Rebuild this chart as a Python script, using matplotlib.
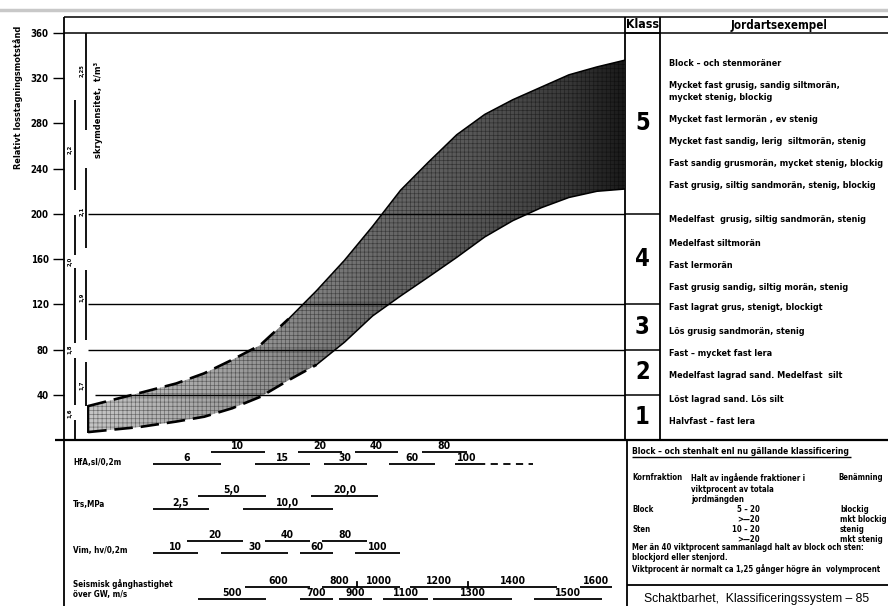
import os
import numpy as np
import matplotlib
matplotlib.use("Agg")
import matplotlib.pyplot as plt
from matplotlib import font_manager as fm


def pick_font(patterns):
    files = [f.fname for f in fm.fontManager.ttflist]
    for p in patterns:
        for f in files:
            if os.path.basename(f).lower().startswith(p.lower()):
                return f
    return None


bold_file = pick_font(['LiberationSansNarrow-Bold.', 'DejaVuSansCondensed-Bold.',
                       'RobotoCondensed-Bold', 'Roboto_Condensed-Bold',
                       'OpenSansCondensed-Bold', 'OpenSans_Condensed-Bold',
                       'Roboto-Bold.', 'LiberationSans-Bold.'])
reg_file = pick_font(['LiberationSans-Regular.', 'Roboto-Regular.', 'DejaVuSans.'])
FP = fm.FontProperties(fname=bold_file) if bold_file else \
    fm.FontProperties(family='DejaVu Sans', weight='bold')
FR = fm.FontProperties(fname=reg_file) if reg_file else \
    fm.FontProperties(family='DejaVu Sans')

# ---------------- data ----------------
y_ticks = [40, 80, 120, 160, 200, 240, 280, 320, 360]
class_bounds = [360, 200, 120, 80, 40, 0]
class_names = ['5', '4', '3', '2', '1']

band_x = [4.3, 13.5, 20, 25, 30, 35, 40, 45, 50, 55, 60, 65, 70, 75, 80, 85, 90, 95, 100]
band_upper = [30, 41.6, 50, 59, 71, 84, 107, 132, 159, 189, 221, 246, 270, 288, 301, 312, 323, 330, 336]
band_lower = [7, 11.5, 16.3, 20.6, 28.1, 38.2, 52.8, 66.5, 86.5, 109.7, 127.4, 144.3, 161.5,
              179.6, 194, 205.3, 214.5, 220, 222]

dens_a_labels = ['1,6', '1,8', '2,0', '2,2']
dens_a_values = [24, 80, 158, 257]
dens_a_segments = [(0, 17.7), (31, 72.6), (86, 152), (164, 199), (221, 301)]
dens_b_labels = ['1,7', '1,9', '2,1', '2,25']
dens_b_values = [48.7, 126.5, 202, 327]
dens_b_segments = [(30, 69), (88.5, 150.4), (170, 240.7), (274, 360)]

examples = [
    "Block \u2013 och stenmoräner",
    "Mycket fast grusig, sandig siltmorän,",
    "mycket stenig, blockig",
    "Mycket fast lermorän , ev stenig",
    "Mycket fast sandig, lerig  siltmorän, stenig",
    "Fast sandig grusmorän, mycket stenig, blockig",
    "Fast grusig, siltig sandmorän, stenig, blockig",
    "Medelfast  grusig, siltig sandmorän, stenig",
    "Medelfast siltmorän",
    "Fast lermorän",
    "Fast grusig sandig, siltig morän, stenig",
    "Fast lagrat grus, stenigt, blockigt",
    "Lös grusig sandmorän, stenig",
    "Fast \u2013 mycket fast lera",
    "Medelfast lagrad sand. Medelfast  silt",
    "Löst lagrad sand. Lös silt",
    "Halvfast \u2013 fast lera",
]
example_rows_px = [63, 85, 97, 120, 142, 163, 185, 220, 243, 265, 287, 308, 332, 354, 376, 399, 421]

hfa_values = ['6', '10', '15', '20', '30', '40', '60', '80', '100']
hfa_spans = [(15.9, 28.0), (26.2, 35.8), (34.0, 43.9), (41.7, 49.6), (46.3, 54.0),
             (51.9, 59.5), (57.9, 66.1), (63.8, 71.8), (69.7, 73.8)]
hfa_tail = (73.8, 83.6)
trs_values = ['2,5', '5,0', '10,0', '20,0']
trs_spans = [(15.9, 25.8), (23.9, 36.0), (31.9, 47.9), (44.0, 56.0)]
vim_values = ['10', '20', '30', '40', '60', '80', '100']
vim_spans = [(15.9, 23.9), (21.9, 31.9), (28.0, 39.9), (35.8, 43.9), (42.1, 47.9),
             (46.0, 54.0), (51.9, 59.9)]
seis_values = ['500', '600', '700', '800', '900', '1000', '1100', '1200', '1300',
               '1400', '1500', '1600']
seis_spans = [(23.9, 36.0), (32.3, 43.9), (42.1, 47.9), (46.0, 52.2), (49.0, 54.9),
              (52.2, 59.9), (56.9, 64.9), (61.7, 72.0), (65.8, 79.9), (72.0, 87.9),
              (83.8, 95.9), (92.0, 97.7)]

# ---------------- figure ----------------
W, H = 888, 606
fig = plt.figure(figsize=(W / 100, H / 100), dpi=100, facecolor='white')
renderer = fig.canvas.get_renderer()


def extent(t, along='w'):
    bb = t.get_window_extent(renderer)
    return bb.width if along == 'w' else bb.height


def calibrate(texts, target, along='w'):
    cur = max(extent(t, along) for t in texts)
    f = target / cur
    for t in texts:
        t.set_fontsize(t.get_fontsize() * f)


def shrink_to(t, maxw):
    w = extent(t)
    if w > maxw:
        t.set_fontsize(t.get_fontsize() * maxw / w)


ov = fig.add_axes([0, 0, 1, 1])
ov.set_xlim(0, W)
ov.set_ylim(H, 0)
ov.axis('off')


def T(x, y, s, size=7, **kw):
    kw.setdefault('fontproperties', FP)
    return ov.text(x, y, s, fontsize=size, **kw)


K = dict(color='black', solid_capstyle='butt')
ov.plot([0, W], [10, 10], color='#c8c8c8', lw=2.5)
ov.plot([64, W], [17, 17], lw=1.1, **K)
ov.plot([625, W], [33, 33], lw=1.1, **K)
ov.plot([64, 64], [17, H], lw=1.3, **K)
ov.plot([625, 625], [17, 440], lw=1.3, **K)
ov.plot([660, 660], [17, 440], lw=1.3, **K)
ov.plot([55, W], [440, 440], lw=1.6, **K)
ov.plot([627, 627], [440, H], lw=1.3, **K)
ov.plot([627, W], [585, 585], lw=1.3, **K)

t_klass = T(642, 25, "Klass", 10, ha='center', va='center')
t_jord = T(779, 25, "Jordartsexempel", 10, ha='center', va='center')
ex_texts = [T(669, yy, txt, 7, ha='left', va='center')
            for txt, yy in zip(examples, example_rows_px)]

t_ylab = T(18, 97, "Relativt losstagningsmotstånd", 7.5, rotation=90, ha='center',
           va='center')

row_texts = [
    T(73, 462, "HfA,sl/0,2m", ha='left', va='center'),
    T(73, 505, "Trs,MPa", ha='left', va='center'),
    T(73, 550, "Vim, hv/0,2m", ha='left', va='center'),
    T(73, 584, "Seismisk gånghastighet", ha='left', va='center'),
    T(73, 595, "över GW, m/s", ha='left', va='center'),
]

t_title = T(632, 451, "Block \u2013 och stenhalt enl nu gällande klassificering", 7.8,
            ha='left', va='center')
ov.plot([632, 851], [457, 457], lw=1.0, **K)
box = []
colc = []
box.append(T(632, 478, "Kornfraktion", ha='left', va='center'))
box.append(T(691, 478, "Halt av ingående fraktioner i", ha='left', va='center'))
box.append(T(691, 489, "viktprocent av totala", ha='left', va='center'))
box.append(T(691, 499, "jordmängden", ha='left', va='center'))
colc.append(T(838, 478, "Benämning", ha='left', va='center'))
box.append(T(632, 509, "Block", ha='left', va='center'))
box.append(T(760, 509, "5 \u2013 20", ha='right', va='center'))
colc.append(T(840, 509, "blockig", ha='left', va='center'))
box.append(T(760, 519, ">\u201420", ha='right', va='center'))
colc.append(T(840, 519, "mkt blockig", ha='left', va='center'))
box.append(T(632, 529, "Sten", ha='left', va='center'))
box.append(T(760, 529, "10 \u2013 20", ha='right', va='center'))
colc.append(T(840, 529, "stenig", ha='left', va='center'))
box.append(T(760, 539, ">\u201420", ha='right', va='center'))
colc.append(T(840, 539, "mkt stenig", ha='left', va='center'))
box.append(T(632, 548, "Mer än 40 viktprocent sammanlagd halt av block och sten:",
             ha='left', va='center'))
box.append(T(632, 558, "blockjord eller stenjord.", ha='left', va='center'))
box.append(T(632, 569, "Viktprocent är normalt ca 1,25 gånger högre än  volymprocent",
             ha='left', va='center'))
t_schakt = T(757, 599, "Schaktbarhet,  Klassificeringssystem \u2013 85", 8,
             ha='center', va='center', fontproperties=FR)

# ---------------- main chart ----------------
X0, X1, YT, YB = 64, 625, 17, 440
ax = fig.add_axes([X0 / W, (H - YB) / H, (X1 - X0) / W, (YB - YT) / H])
ax.set_facecolor('none')
ytop = 360 * (YB - YT) / (YB - 33)

gx = np.linspace(0, 100, 400)
shade = np.interp(gx, [0, 30, 55, 75, 90, 100], [0.80, 0.62, 0.42, 0.33, 0.22, 0.10])
img = ax.imshow(shade[None, :], extent=(0, 100, 0, ytop), cmap='gray', vmin=0, vmax=1,
                aspect='auto', origin='lower', zorder=1, interpolation='bilinear')
poly = ax.fill_between(band_x, band_lower, band_upper, facecolor='none', edgecolor='none')
img.set_clip_path(poly.get_paths()[0], transform=ax.transData)
plt.rcParams['hatch.linewidth'] = 0.45
ax.fill_between(band_x, band_lower, band_upper, facecolor='none',
                edgecolor=(0, 0, 0, 0.45), hatch='++++', lw=0, zorder=2)

ax.plot(band_x[:7], band_upper[:7], color='k', lw=1.9, dashes=(7, 3), zorder=4)
ax.plot(band_x[6:], band_upper[6:], color='k', lw=1.1, zorder=4)
ax.plot(band_x[:8], band_lower[:8], color='k', lw=1.9, dashes=(7, 3), zorder=4)
ax.plot(band_x[7:], band_lower[7:], color='k', lw=1.1, zorder=4)
ax.plot([band_x[0], band_x[0]], [band_lower[0], band_upper[0]], color='k', lw=1.4, zorder=4)

ax.hlines(360, 0, 106.2, color='k', lw=1.1, zorder=3, clip_on=False)
ax.hlines([200, 120, 80], 4.3, 100, color='k', lw=1.0, zorder=3)
ax.hlines(40, 5.5, 100, color='k', lw=1.0, zorder=3)
ax.hlines(class_bounds[1:-1], 100, 106.2, color='k', lw=1.1, zorder=3, clip_on=False)
for name, hi, lo in zip(class_names, class_bounds[:-1], class_bounds[1:]):
    ax.text(103.1, (hi + lo) / 2, name, ha='center', va='center',
            fontproperties=FP, fontsize=17, clip_on=False)

for a, b in dens_a_segments:
    ax.plot([1.96, 1.96], [a, b], color='k', lw=1.3, solid_capstyle='butt')
for a, b in dens_b_segments:
    ax.plot([4.0, 4.0], [a, b], color='k', lw=1.3, solid_capstyle='butt')
dens_texts = []
for lab, v in zip(dens_a_labels, dens_a_values):
    dens_texts.append(ax.text(1.07, v, lab, rotation=90, ha='center', va='center',
                              fontproperties=FP, fontsize=6.5))
for lab, v in zip(dens_b_labels, dens_b_values):
    dens_texts.append(ax.text(3.2, v, lab, rotation=90, ha='center', va='center',
                              fontproperties=FP, fontsize=6.5))
t_skrym = ax.text(6.1, 292, "skrymdensitet,  t/m³", rotation=90, ha='center',
                  va='center', fontproperties=FP, fontsize=6.5)

ax.set_xlim(0, 100)
ax.set_ylim(0, ytop)
ax.set_yticks(y_ticks)
ax.set_yticklabels([str(t) for t in y_ticks])
ax.tick_params(axis='y', direction='out', length=8, width=1.0, pad=3)
ax.set_xticks([])
for s in ax.spines.values():
    s.set_visible(False)

# ---------------- lower scales ----------------
lx = fig.add_axes([X0 / W, 0, (X1 - X0) / W, (H - YB) / H], sharex=ax)
lx.set_ylim(H - YB, 0)
lx.axis('off')
scale_texts = []


def draw_scale(values, spans, y_up, y_low, ticks=False):
    prev_up = None
    for i, (lab, (a, b)) in enumerate(zip(values, spans)):
        y = y_low if i % 2 == 0 else y_up
        lx.plot([a, b], [y, y], color='k', lw=1.3, solid_capstyle='butt')
        scale_texts.append(lx.text((a + b) / 2, y - 0.8, lab, ha='center', va='bottom',
                                   fontproperties=FP, fontsize=7.5))
        if ticks and i % 2 == 1:
            if prev_up is not None and abs(prev_up - a) < 0.05:
                lx.plot([a, a], [y - 5, y], color='k', lw=1.3)
            prev_up = b


draw_scale(hfa_values, hfa_spans, 12, 24)
lx.plot(list(hfa_tail), [24, 24], color='k', lw=1.3, dashes=(4, 3))
draw_scale(trs_values, trs_spans, 56, 69)
draw_scale(vim_values, vim_spans, 101, 113)
draw_scale(seis_values, seis_spans, 147, 159, ticks=True)

# ---------------- size text to the reference widths ----------------
calibrate(ex_texts, 214)
calibrate(box, 250)
for t in colc:
    t.set_fontsize(box[0].get_fontsize())
    shrink_to(t, 887 - 840)
calibrate([t_title], 217)
calibrate(row_texts, 100)
calibrate([t_ylab], 142, 'h')
calibrate([t_klass], 33)
calibrate([t_jord], 96)
calibrate([t_schakt], 226)
calibrate(scale_texts, 26)
calibrate(dens_texts, 13, 'h')
calibrate([t_skrym], 96, 'h')

tmp = fig.text(0, 0, "360", fontproperties=FP, fontsize=7.5)
tick_size = 7.5 * 18 / extent(tmp)
tmp.remove()
for lab in ax.get_yticklabels():
    lab.set_fontproperties(FP)
    lab.set_fontsize(tick_size)

fig.savefig("out.png", dpi=100, facecolor='white')
